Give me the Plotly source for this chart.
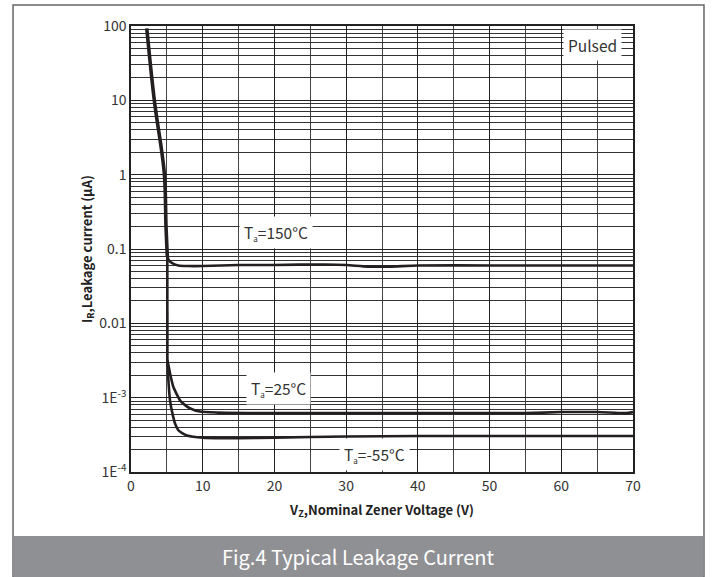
import math
import plotly.graph_objects as go

# shared breakdown part (steep line)
steep_v = [2.2, 3.25, 4.64, 4.88, 5.06]
steep_i = [93, 10, 1.05, 0.2, 0.08]

# lower common part
low_v = [5.06, 5.07, 5.08]
low_i = [0.08, 0.01, 3.2e-3]

# Ta = 150C
t150_v = [5.06, 5.3, 5.8, 6.6, 8, 10, 15, 20, 27, 30, 33, 36, 40, 50, 60, 70]
t150_i = [0.08, 0.07, 0.064, 0.060, 0.059, 0.059, 0.061, 0.061, 0.062, 0.061, 0.058, 0.058, 0.060, 0.060, 0.060, 0.060]

# Ta = 25C
t25_v = [5.08, 5.5, 5.9, 6.4, 6.83, 7.5, 8.2, 9.6, 12, 20, 30, 40, 50, 55, 60, 65, 69, 70]
t25_i = [3.2e-3, 2.0e-3, 1.4e-3, 1.1e-3, 9.2e-4, 8.0e-4, 7.2e-4, 6.5e-4, 6.3e-4, 6.2e-4, 6.2e-4, 6.2e-4, 6.2e-4, 6.2e-4, 6.4e-4, 6.4e-4, 6.2e-4, 6.4e-4]

# Ta = -55C
tm55_v = [5.08, 5.2, 5.44, 5.8, 6.14, 6.6, 7.2, 7.8, 10, 15, 20, 30, 40, 50, 60, 70]
tm55_i = [3.2e-3, 1.8e-3, 9.2e-4, 6.0e-4, 4.5e-4, 3.65e-4, 3.3e-4, 3.1e-4, 2.9e-4, 2.85e-4, 2.9e-4, 3.0e-4, 3.05e-4, 3.05e-4, 3.05e-4, 3.05e-4]

y_tickvals = [1e-4, 1e-3, 0.01, 0.1, 1, 10, 100]
y_ticktext = ["1E<sup>-4</sup>", "1E<sup>-3</sup>", "0.01", "0.1", "1", "10", "100"]

# label texts and positions (data coords)
labels = [
    ("Pulsed", 64.3, 55),
    ("T<sub><span style='font-size:8px'>a</span></sub>=150°C", 20.2, 0.165),
    ("T<sub><span style='font-size:8px'>a</span></sub>=25°C", 20.6, 1.34e-3),
    ("T<sub><span style='font-size:8px'>a</span></sub>=-55°C", 33.9, 1.74e-4),
]

FONT = "Noto Sans CJK SC"
INK = "#231f20"

fig = go.Figure()
fig.add_trace(go.Scatter(x=steep_v, y=steep_i, mode="lines", line=dict(color=INK, width=3.6, shape="spline", smoothing=1), showlegend=False))
fig.add_trace(go.Scatter(x=low_v, y=low_i, mode="lines", line=dict(color=INK, width=2.6), showlegend=False))
for v, i in [(t150_v, t150_i), (t25_v, t25_i), (tm55_v, tm55_i)]:
    fig.add_trace(go.Scatter(x=v, y=i, mode="lines", line=dict(color=INK, width=2.6, shape="spline", smoothing=0.6), showlegend=False))

for txt, x, y in labels:
    fig.add_annotation(x=x, y=math.log10(y), text=txt, showarrow=False, bgcolor="white",
                       font=dict(family=FONT, size=15.5, color="#333"), borderpad=4)

# figure frame and caption bar
fig.add_shape(type="rect", xref="paper", yref="paper", x0=-0.235, x1=1.1414, y0=-0.2354, y1=1.0471,
              line=dict(color="#666", width=1.5), layer="below")
fig.add_shape(type="rect", xref="paper", yref="paper", x0=-0.234, x1=1.140, y0=-0.2354, y1=-0.1435,
              line=dict(width=0), fillcolor="#8f9094")
fig.add_annotation(x=(358 - 131) / 502, y=-0.1895, xref="paper", yref="paper", text="Fig.4 Typical Leakage Current",
                   showarrow=False, font=dict(family=FONT, size=20, color="white"), yanchor="middle")

fig.update_xaxes(range=[0, 70], dtick=10, showgrid=True, gridcolor="#222", gridwidth=1,
                 minor=dict(dtick=5, showgrid=True, gridcolor="#444", gridwidth=1),
                 showline=True, linecolor="#222", linewidth=1.5, mirror=True, zeroline=False,
                 tickfont=dict(family=FONT, size=14, color="#333"), ticks="",
                 title=dict(text="<b>V<sub>Z</sub>,Nominal Zener Voltage (V)</b>", standoff=12,
                            font=dict(family=FONT, size=13, color="#222")))
fig.update_yaxes(type="log", range=[-4, 2], tickvals=y_tickvals, ticktext=y_ticktext,
                 showgrid=True, gridcolor="#222", gridwidth=1,
                 minor=dict(dtick="D1", showgrid=True, gridcolor="#333", gridwidth=1),
                 showline=True, linecolor="#222", linewidth=1.5, mirror=True, zeroline=False,
                 tickfont=dict(family=FONT, size=14, color="#333"), ticks="",
                 title=dict(text="<b>I<sub>R</sub>,Leakage current (μA)</b>", standoff=4,
                            font=dict(family=FONT, size=13, color="#222")))

fig.update_layout(width=713, height=577, margin=dict(l=131, r=80, t=26, b=105),
                  plot_bgcolor="white", paper_bgcolor="white")

# drop the page's default body margin so the figure sits at the window corner
fig.write_html("out.html", config={"displayModeBar": False},
               post_script="document.body.style.margin='0';")
